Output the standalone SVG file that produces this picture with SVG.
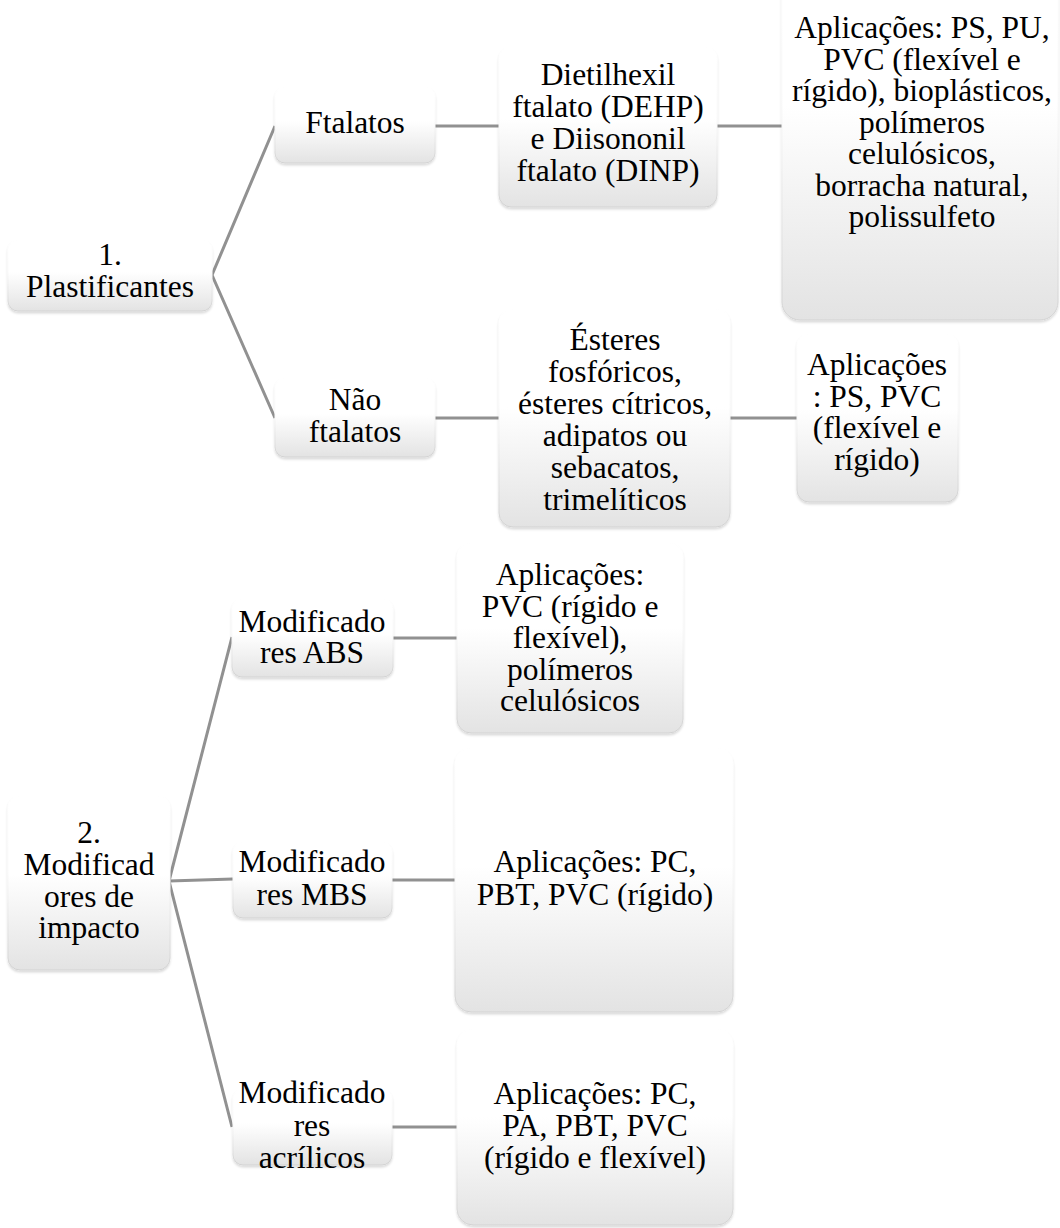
<svg xmlns="http://www.w3.org/2000/svg" width="1060" height="1228" viewBox="0 0 1060 1228">
<style>
.box{fill:url(#g);stroke:url(#gs);stroke-width:1;filter:url(#sh)}
.t{font-family:"Liberation Serif","Times New Roman",serif;font-size:31.5px;fill:#000;text-anchor:middle}
.c{fill:none;stroke:#919191;stroke-width:3}
</style>
<defs>
<linearGradient id="g" x1="0" y1="0" x2="0" y2="1">
<stop offset="0" stop-color="#ffffff"/>
<stop offset="0.45" stop-color="#ffffff"/>
<stop offset="1" stop-color="#e3e3e3"/>
</linearGradient>
<linearGradient id="gs" x1="0" y1="0" x2="0" y2="1">
<stop offset="0" stop-color="#ffffff"/>
<stop offset="0.45" stop-color="#fafafa"/>
<stop offset="1" stop-color="#d2d2d2"/>
</linearGradient>
<filter id="sh" x="-10%" y="-10%" width="120%" height="130%">
<feDropShadow dx="0" dy="2" stdDeviation="1.2" flood-color="#000" flood-opacity="0.14"/>
</filter>
</defs>
<rect width="1060" height="1228" fill="#fff"/>
<g id="connectors">
<polyline class="c" points="275,126 212,275 275,418"/>
<line class="c" x1="435" y1="126" x2="499" y2="126"/>
<line class="c" x1="717" y1="126" x2="782" y2="126"/>
<line class="c" x1="435" y1="418" x2="499" y2="418"/>
<line class="c" x1="730" y1="418" x2="797" y2="418"/>
<polyline class="c" points="232,637 169,881 232,1127"/>
<line class="c" x1="169" y1="881" x2="233" y2="879"/>
<line class="c" x1="393" y1="638" x2="457" y2="638"/>
<line class="c" x1="392" y1="880" x2="455" y2="880"/>
<line class="c" x1="392" y1="1127" x2="457" y2="1127"/>
</g>
<g id="n1">
<rect class="box" x="8" y="240" width="204" height="71" rx="10"/>
<text class="t"><tspan x="110" y="265">1.</tspan><tspan x="110" y="297">Plastificantes</tspan></text>
</g>
<g id="n_ftalatos">
<rect class="box" x="275" y="87" width="160" height="76" rx="10"/>
<text class="t" x="355" y="133">Ftalatos</text>
</g>
<g id="n_dehp">
<rect class="box" x="499" y="47" width="218" height="160" rx="12"/>
<text class="t"><tspan x="608" y="85">Dietilhexil</tspan><tspan x="608" y="117">ftalato (DEHP)</tspan><tspan x="608" y="149">e Diisononil</tspan><tspan x="608" y="181">ftalato (DINP)</tspan></text>
</g>
<g id="n_app1">
<rect class="box" x="782" y="-70" width="276" height="390" rx="18"/>
<text class="t"><tspan x="922" y="38">Aplicações: PS, PU,</tspan><tspan x="922" y="70">PVC (flexível e</tspan><tspan x="922" y="101">rígido), bioplásticos,</tspan><tspan x="922" y="133">polímeros</tspan><tspan x="922" y="164">celulósicos,</tspan><tspan x="922" y="196">borracha natural,</tspan><tspan x="922" y="227">polissulfeto</tspan></text>
</g>
<g id="n_naoftalatos">
<rect class="box" x="275" y="378" width="160" height="79" rx="10"/>
<text class="t"><tspan x="355" y="410">Não</tspan><tspan x="355" y="442">ftalatos</tspan></text>
</g>
<g id="n_esteres">
<rect class="box" x="499" y="309" width="231" height="218" rx="14"/>
<text class="t"><tspan x="615" y="350">Ésteres</tspan><tspan x="615" y="382">fosfóricos,</tspan><tspan x="615" y="414">ésteres cítricos,</tspan><tspan x="615" y="446">adipatos ou</tspan><tspan x="615" y="478">sebacatos,</tspan><tspan x="615" y="510">trimelíticos</tspan></text>
</g>
<g id="n_app2">
<rect class="box" x="797" y="334" width="161" height="168" rx="12"/>
<text class="t"><tspan x="877" y="375">Aplicações</tspan><tspan x="877" y="407">: PS, PVC</tspan><tspan x="877" y="438">(flexível e</tspan><tspan x="877" y="470">rígido)</tspan></text>
</g>
<g id="n2">
<rect class="box" x="8" y="796" width="162" height="174" rx="12"/>
<text class="t"><tspan x="89" y="843">2.</tspan><tspan x="89" y="875">Modificad</tspan><tspan x="89" y="907">ores de</tspan><tspan x="89" y="938">impacto</tspan></text>
</g>
<g id="n_abs">
<rect class="box" x="232" y="599" width="161" height="78" rx="10"/>
<text class="t"><tspan x="312" y="632">Modificado</tspan><tspan x="312" y="663">res ABS</tspan></text>
</g>
<g id="n_app_abs">
<rect class="box" x="457" y="543" width="226" height="190" rx="14"/>
<text class="t"><tspan x="570" y="585">Aplicações:</tspan><tspan x="570" y="617">PVC (rígido e</tspan><tspan x="570" y="648">flexível),</tspan><tspan x="570" y="680">polímeros</tspan><tspan x="570" y="711">celulósicos</tspan></text>
</g>
<g id="n_mbs">
<rect class="box" x="233" y="842" width="159" height="76" rx="10"/>
<text class="t"><tspan x="312" y="872">Modificado</tspan><tspan x="312" y="905">res MBS</tspan></text>
</g>
<g id="n_app_mbs">
<rect class="box" x="455" y="748" width="278" height="264" rx="16"/>
<text class="t"><tspan x="595" y="872">Aplicações: PC,</tspan><tspan x="595" y="905">PBT, PVC (rígido)</tspan></text>
</g>
<g id="n_acr">
<rect class="box" x="233" y="1089" width="159" height="76" rx="10"/>
<text class="t"><tspan x="312" y="1103">Modificado</tspan><tspan x="312" y="1136">res</tspan><tspan x="312" y="1168">acrílicos</tspan></text>
</g>
<g id="n_app_acr">
<rect class="box" x="457" y="1029" width="276" height="196" rx="16"/>
<text class="t"><tspan x="595" y="1104">Aplicações: PC,</tspan><tspan x="595" y="1136">PA, PBT, PVC</tspan><tspan x="595" y="1168">(rígido e flexível)</tspan></text>
</g>
</svg>
